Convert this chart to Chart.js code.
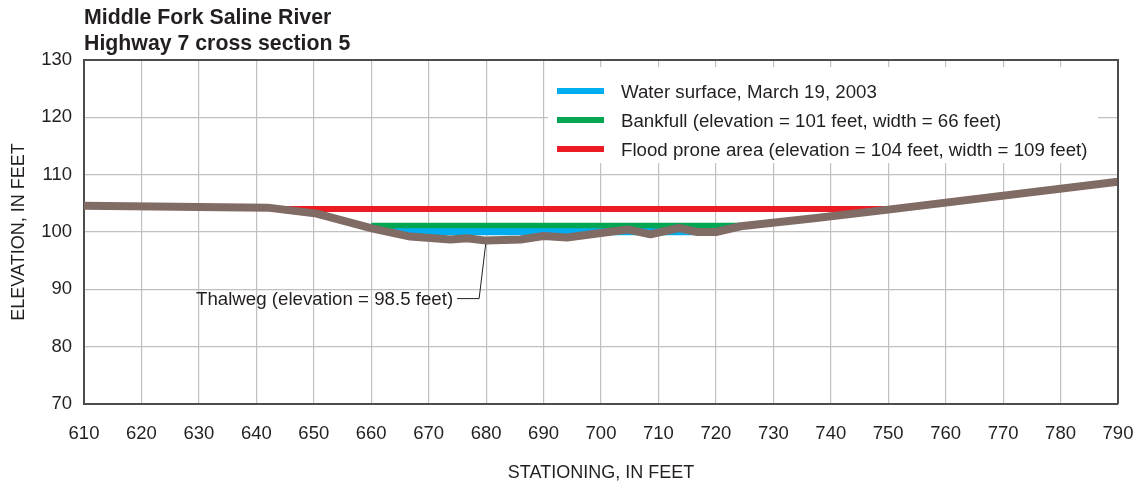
<!DOCTYPE html>
<html>
<head>
<meta charset="utf-8">
<title>Middle Fork Saline River, Highway 7 cross section 5</title>
<script src="https://cdn.jsdelivr.net/npm/chart.js@4.4.1/dist/chart.umd.min.js"></script>
<style>
  html, body { margin: 0; padding: 0; background: #fff; }
  #wrap { width: 1143px; height: 485px; }
</style>
</head>
<body>
<div id="wrap"><canvas id="xs" width="1143" height="485"></canvas></div>
<script>
// surveyed ground profile (station ft, elevation ft)
const groundStation = [610, 642, 650.5, 660.3, 666.8, 673.8, 676.7, 680, 686, 690, 694.1, 704.6, 708.6, 713.6, 716.8, 720, 724.3, 737.1, 750, 790];
const groundElev    = [104.6, 104.25, 103.2, 100.6, 99.2, 98.7, 98.9, 98.5, 98.7, 99.3, 99.05, 100.45, 99.6, 100.7, 100.0, 100.0, 101.0, 102.4, 103.9, 108.75];

// horizontal reference lines
const waterStation    = [664, 720];
const waterElev       = [100.05, 100.05];
const bankfullStation = [660, 724];
const bankfullElev    = [101, 101];
const floodStation    = [645, 750];
const floodElev       = [104, 104];

// deepest point of the channel
const thalwegStation = 680;
const thalwegElev = 98.5;

const stationTicks = [610, 620, 630, 640, 650, 660, 670, 680, 690, 700, 710, 720, 730, 740, 750, 760, 770, 780, 790];
const elevTicks = [70, 80, 90, 100, 110, 120, 130];

const titleLines = ['Middle Fork Saline River', 'Highway 7 cross section 5'];

const FONT = '"Liberation Sans", Arial, Helvetica, sans-serif';
const INK = '#231f20';
Chart.defaults.font.family = FONT;
Chart.defaults.color = INK;

const pts = (xs, ys) => xs.map((x, i) => ({ x, y: ys[i] }));

function refLine(label, xs, ys, color, width, order) {
  return {
    label, data: pts(xs, ys), borderColor: color, backgroundColor: color,
    borderWidth: width, pointRadius: 0, tension: 0, order, borderCapStyle: 'butt'
  };
}

const datasets = [
  {
    label: 'Ground', data: pts(groundStation, groundElev),
    borderColor: '#806b65', borderWidth: 8, pointRadius: 0, tension: 0,
    borderJoinStyle: 'round', order: 0, inLegend: false
  },
  refLine('Water surface, March 19, 2003', waterStation, waterElev, '#00aeef', 7, 1),
  refLine('Bankfull (elevation = 101 feet, width = 66 feet)', bankfullStation, bankfullElev, '#00a651', 7, 2),
  refLine('Flood prone area (elevation = 104 feet, width = 109 feet)', floodStation, floodElev, '#ed1c24', 6, 3)
];

// two-line bold heading, left edge lined up with the plot frame
const headingPlugin = {
  id: 'heading',
  afterDraw(chart) {
    const ctx = chart.ctx;
    ctx.save();
    ctx.font = 'bold 21.3px ' + FONT;
    ctx.fillStyle = INK;
    ctx.textBaseline = 'alphabetic';
    ctx.fillText(titleLines[0], chart.chartArea.left, 24);
    ctx.fillText(titleLines[1], chart.chartArea.left, 50);
    ctx.restore();
  }
};

// legend sits inside the plot on a white panel that hides the grid
const panelLegend = {
  id: 'panelLegend',
  beforeDatasetsDraw(chart) {
    const ctx = chart.ctx;
    const items = chart.data.datasets.filter(d => d.inLegend !== false);
    ctx.save();
    ctx.fillStyle = '#fff';
    ctx.fillRect(548, 67, 550, 96);
    ctx.font = '18.7px ' + FONT;
    ctx.textBaseline = 'alphabetic';
    items.forEach((d, i) => {
      const cy = 91 + i * 29;
      ctx.fillStyle = d.borderColor;
      ctx.fillRect(557, cy - 3, 47, 6);
      ctx.fillStyle = INK;
      ctx.fillText(d.label, 621, cy + 6.5);
    });
    ctx.restore();
  }
};

// leader from the label to the thalweg, tucked under the ground line
const thalwegNote = {
  id: 'thalwegNote',
  beforeDatasetsDraw(chart) {
    const { ctx, scales } = chart;
    const px = scales.x.getPixelForValue(thalwegStation);
    const py = scales.y.getPixelForValue(thalwegElev);
    const ex = px - 7, ey = py + 58;
    ctx.save();
    ctx.strokeStyle = INK;
    ctx.lineWidth = 1;
    ctx.beginPath();
    ctx.moveTo(px, py);
    ctx.lineTo(ex, ey);
    ctx.lineTo(ex - 22, ey);
    ctx.stroke();
    ctx.font = '18.7px ' + FONT;
    ctx.fillStyle = INK;
    ctx.textAlign = 'right';
    ctx.textBaseline = 'alphabetic';
    ctx.fillText('Thalweg (elevation = ' + thalwegElev + ' feet)', ex - 26, ey + 6.5);
    ctx.restore();
  }
};

// closes the plot frame on the top and right sides
const frame = {
  id: 'frame',
  afterDatasetsDraw(chart) {
    const { ctx, chartArea: a } = chart;
    ctx.save();
    ctx.strokeStyle = '#4d4d4d';
    ctx.lineWidth = 2;
    ctx.beginPath();
    ctx.moveTo(a.left, a.top);
    ctx.lineTo(a.right, a.top);
    ctx.lineTo(a.right, a.bottom);
    ctx.stroke();
    ctx.restore();
  }
};

new Chart(document.getElementById('xs'), {
  type: 'line',
  data: { datasets },
  plugins: [headingPlugin, panelLegend, thalwegNote, frame],
  options: {
    responsive: false,
    animation: false,
    layout: { padding: { top: 60, right: 25, left: 0, bottom: 0 } },
    plugins: { legend: { display: false }, tooltip: { enabled: false } },
    scales: {
      x: {
        type: 'linear', min: 610, max: 790,
        afterBuildTicks: s => { s.ticks = stationTicks.map(v => ({ value: v })); },
        afterFit: s => { s.height = 81; s.paddingLeft = 0; s.paddingRight = 0; },
        grid: { color: '#c0c0c0', lineWidth: 1.2, drawTicks: false },
        border: { color: '#4d4d4d', width: 2 },
        ticks: { font: { size: 18.5 }, color: INK, padding: 19, maxRotation: 0, autoSkip: false },
        title: { display: true, text: 'STATIONING, IN FEET', font: { size: 18 }, color: INK, padding: { top: 0, bottom: 1 } }
      },
      y: {
        type: 'linear', min: 70, max: 130,
        afterBuildTicks: s => { s.ticks = elevTicks.map(v => ({ value: v })); },
        afterFit: s => { s.width = 84; s.paddingTop = 0; s.paddingBottom = 0; },
        grid: { color: '#c0c0c0', lineWidth: 1.2, drawTicks: false },
        border: { color: '#4d4d4d', width: 2 },
        ticks: { font: { size: 18.5 }, color: INK, padding: 12 },
        title: { display: true, text: 'ELEVATION, IN FEET', font: { size: 18 }, color: INK, padding: { top: 8, bottom: 0 } }
      }
    }
  }
});
</script>
</body>
</html>
